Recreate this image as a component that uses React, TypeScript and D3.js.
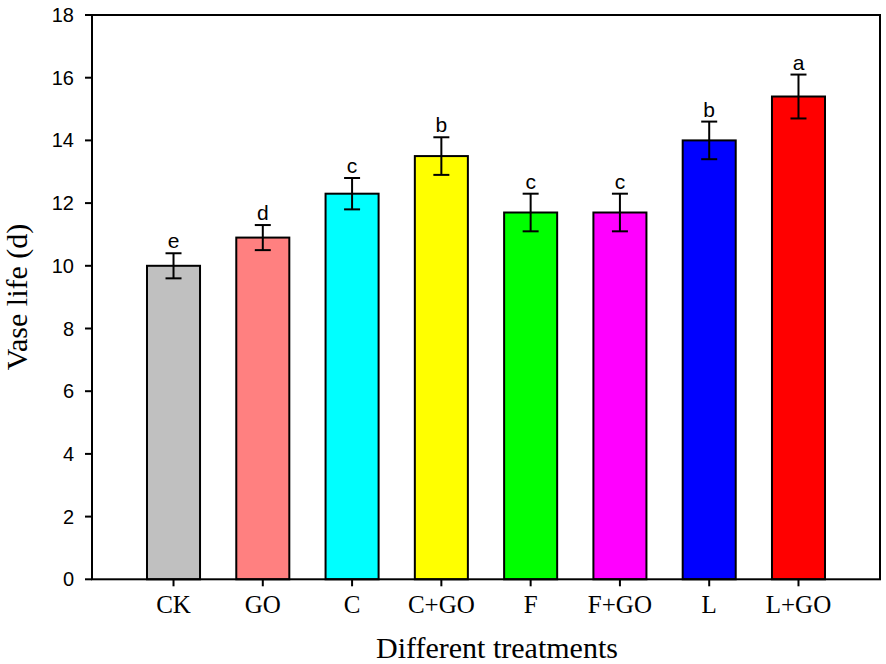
import React from "react";
import * as d3 from "d3";

const categories = ["CK", "GO", "C", "C+GO", "F", "F+GO", "L", "L+GO"];
const means = [10.0, 10.9, 12.3, 13.5, 11.7, 11.7, 14.0, 15.4];
const errors = [0.4, 0.4, 0.5, 0.6, 0.6, 0.6, 0.6, 0.7];
const letters = ["e", "d", "c", "b", "c", "c", "b", "a"];
const colors = ["#C0C0C0", "#FF8080", "#00FFFF", "#FFFF00", "#00FF00", "#FF00FF", "#0000FF", "#FF0000"];
const yTicks = [0, 2, 4, 6, 8, 10, 12, 14, 16, 18];

const W = 886, H = 664;
const L = 92, R = 880, T = 15, B = 579.3;

export default function App() {
  const x = d3.scaleBand<string>().domain(categories).range([L, R]).paddingInner(0.406).paddingOuter(0.616);
  const y = d3.scaleLinear().domain([0, 18]).range([B, T]);
  const bw = x.bandwidth();
  const sans = "'Liberation Sans', Arial, sans-serif";
  const serif = "'Liberation Serif', 'Times New Roman', serif";
  return (
    <svg width={W} height={H} style={{ position: "absolute", left: 0, top: 0, background: "#fff" }}>
      {categories.map((c, i) => {
        const cx = x(c)! + bw / 2;
        return (
          <g key={c}>
            <rect x={x(c)} y={y(means[i])} width={bw} height={y(0) - y(means[i])} fill={colors[i]} stroke="#000" strokeWidth={2} />
            <line x1={cx} x2={cx} y1={y(means[i] + errors[i])} y2={y(means[i] - errors[i])} stroke="#000" strokeWidth={2} />
            <line x1={cx - 8} x2={cx + 8} y1={y(means[i] + errors[i])} y2={y(means[i] + errors[i])} stroke="#000" strokeWidth={2} />
            <line x1={cx - 8} x2={cx + 8} y1={y(means[i] - errors[i])} y2={y(means[i] - errors[i])} stroke="#000" strokeWidth={2} />
            <text x={cx} y={y(means[i] + errors[i]) - 5} textAnchor="middle" fontFamily={sans} fontSize={21} fill="#000">{letters[i]}</text>
            <line x1={cx} x2={cx} y1={B} y2={B + 7} stroke="#000" strokeWidth={2} />
            <text x={cx} y={613} textAnchor="middle" fontFamily={serif} fontSize={25} fill="#000">{c}</text>
          </g>
        );
      })}
      {yTicks.map((t) => (
        <g key={t}>
          <line x1={L - 7} x2={L} y1={y(t)} y2={y(t)} stroke="#000" strokeWidth={2} />
          <text x={74} y={y(t)} dy="0.35em" textAnchor="end" fontFamily={sans} fontSize={20} fill="#000">{t}</text>
        </g>
      ))}
      <rect x={L} y={T} width={R - L} height={B - T} fill="none" stroke="#000" strokeWidth={2} />
      <text x={497} y={658} textAnchor="middle" fontFamily={serif} fontSize={30} fill="#000">Different treatments</text>
      <text transform={`translate(27,297) rotate(-90)`} textAnchor="middle" fontFamily={serif} fontSize={30} fill="#000">Vase life (d)</text>
    </svg>
  );
}
